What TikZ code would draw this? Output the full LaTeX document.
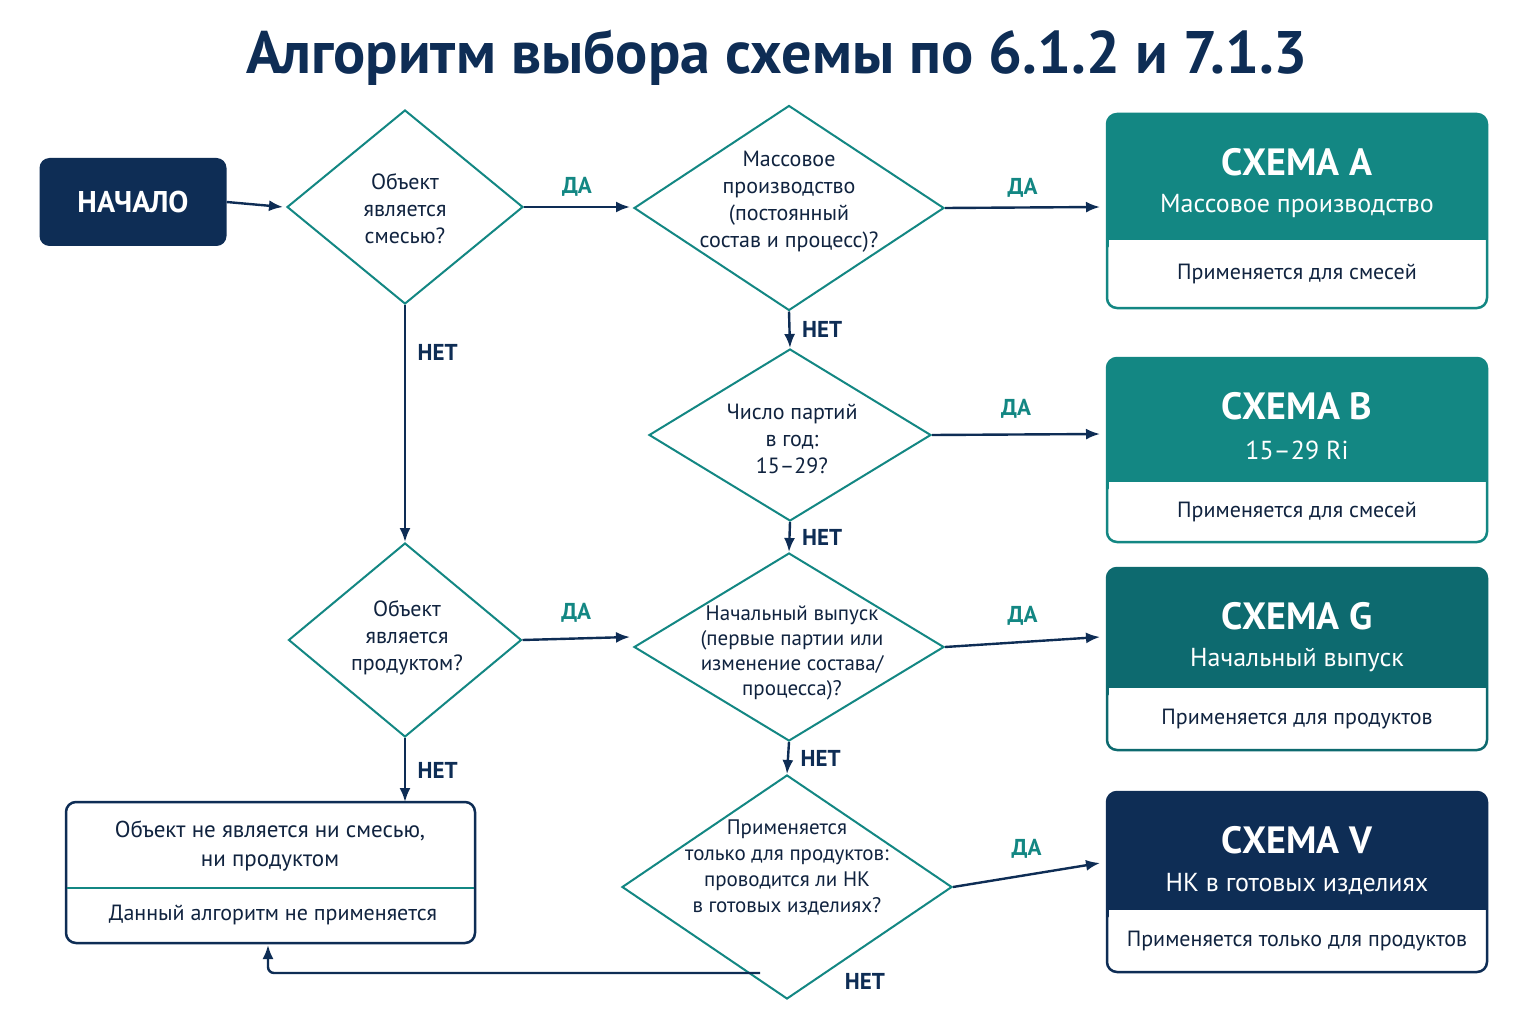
\documentclass[tikz,border=0pt]{standalone}
\usepackage{fontspec}
\setmainfont{PT Sans}
\usetikzlibrary{shapes.geometric,arrows.meta}
\definecolor{navy}{HTML}{0E2D55}
\definecolor{teal}{HTML}{138783}
\definecolor{tealdk}{HTML}{0D6A6F}
\definecolor{txt}{HTML}{10233F}
\tikzset{
 dia/.style={diamond,draw=teal,line width=2pt,inner sep=0pt},
 dtext/.style={align=center,text=txt,font=\fontsize{22}{27}\selectfont},
 arr/.style={draw=navy,line width=2.4pt,-{Latex[length=14pt,width=11pt]}},
 lab/.style={font=\bfseries\fontsize{23}{27}\selectfont},
 yes/.style={lab,text=teal},
 no/.style={lab,text=navy},
 hdr/.style={text=white,font=\bfseries\fontsize{38}{42}\selectfont},
 sub/.style={text=white,font=\fontsize{26}{30}\selectfont},
 body/.style={text=txt,font=\fontsize{22}{26}\selectfont},
}
\begin{document}
\begin{tikzpicture}[x=1pt,y=-1pt]
\useasboundingbox[fill=white] (0,0) rectangle (1536,1024);
\node[text=navy,font=\bfseries\fontsize{60}{66}\selectfont] (title) at (777,58) {Алгоритм выбора схемы по 6.1.2 и 7.1.3};
\node[fill=navy,rounded corners=10pt,minimum width=187pt,minimum height=88pt,text=white,font=\bfseries\fontsize{30}{34}\selectfont] (start) at (133,202) {НАЧАЛО};
% diamonds
\node[dia,minimum width=236pt,minimum height=194pt] (d1) at (405,207) {};
\node[dtext] at (405,209) {Объект\\является\\смесью?};
\node[dia,minimum width=310pt,minimum height=205pt] (d2) at (789,208) {};
\node[dtext] at (789,202) {Массовое\\производство\\(постоянный\\состав и процесс)?};
\node[dia,minimum width=282pt,minimum height=172pt] (d3) at (790,435) {};
\node[dtext] at (792,439) {Число партий\\в год:\\15–29?};
\node[dia,minimum width=233pt,minimum height=194pt] (d4) at (405,640) {};
\node[dtext] at (407,638) {Объект\\является\\продуктом?};
\node[dia,minimum width=310pt,minimum height=188pt] (d5) at (789,647) {};
\node[dtext,font=\fontsize{21}{25}\selectfont] at (792,653) {Начальный выпуск\\(первые партии или\\изменение состава/\\процесса)?};
\node[dia,minimum width=330pt,minimum height=224pt] (d6) at (787,887) {};
\node[dtext,font=\fontsize{21}{26}\selectfont] at (787,867) {Применяется\\только для продуктов:\\проводится ли НК\\в готовых изделиях?};
% scheme boxes
\foreach \n/\top/\mid/\bot/\col/\h/\s/\b in {
 A/114/240/308/teal/{СХЕМА А}/{Массовое производство}/{Применяется для смесей},
 B/358/482/542/teal/{СХЕМА B}/{15–29 Ri}/{Применяется для смесей},
 G/568/688/750/tealdk/{СХЕМА G}/{Начальный выпуск}/{Применяется для продуктов},
 V/792/910/972/navy/{СХЕМА V}/{НК в готовых изделиях}/{Применяется только для продуктов}}{
 \fill[\col,rounded corners=10pt] (1107,\top) rectangle (1487,\mid+12);
 \fill[white] (1108.5,\mid) rectangle (1485.5,\mid+14);
 \draw[\col,line width=2.5pt,rounded corners=10pt] (1107,\top) rectangle (1487,\bot);
 \node[hdr] at (1297,{\top+48}) {\h};
 \node[sub] at (1297,{\top+92}) {\s};
 \node[body] at (1297,{(\mid+\bot)/2}) {\b};
}
\coordinate (sA) at (1100,207);
\coordinate (sB) at (1100,434);
\coordinate (sG) at (1100,637);
\coordinate (sV) at (1100,863);
% end box
\draw[navy,line width=2.5pt,rounded corners=10pt] (66,802) rectangle (475,943);
\draw[teal,line width=2pt] (67,888) -- (474,888);
\node[body,align=center,font=\fontsize{23}{29}\selectfont] (endb) at (270,846) {Объект не является ни смесью,\\ни продуктом};
\node[body] at (273,915) {Данный алгоритм не применяется};
\coordinate (eTop) at (405,802);
\coordinate (eBot) at (268,945);
% arrows
\draw[arr] (start.east) -- (283,207);
\draw[arr] (d1.east) -- (630,207) node[yes,midway,above=6pt] {ДА};
\draw[arr] (d2.east) -- (sA) node[yes,midway,above=6pt] {ДА};
\draw[arr] (d2.south) -- (d3.north) node[no,midway,right=8pt] {НЕТ};
\draw[arr] (d3.east) -- (sB) node[yes,midway,above=12pt] {ДА};
\draw[arr] (d3.south) -- (d5.north) node[no,midway,right=8pt] {НЕТ};
\draw[arr] (d1.south) -- (d4.north) node[no,pos=0.2,right=8pt] {НЕТ};
\draw[arr] (d4.east) -- (630,637) node[yes,midway,above=12pt] {ДА};
\draw[arr] (d5.east) -- (sG) node[yes,midway,above=12pt] {ДА};
\draw[arr] (d5.south) -- (d6.north) node[no,midway,right=8pt] {НЕТ};
\draw[arr] (d4.south) -- (eTop) node[no,midway,right=8pt] {НЕТ};
\draw[arr] (d6.east) -- (sV) node[yes,midway,above=12pt] {ДА};
\draw[arr,rounded corners=6pt] (760,973) -- (268,973) -- (eBot);
\node[no] at (865,981) {НЕТ};
\end{tikzpicture}
\end{document}
